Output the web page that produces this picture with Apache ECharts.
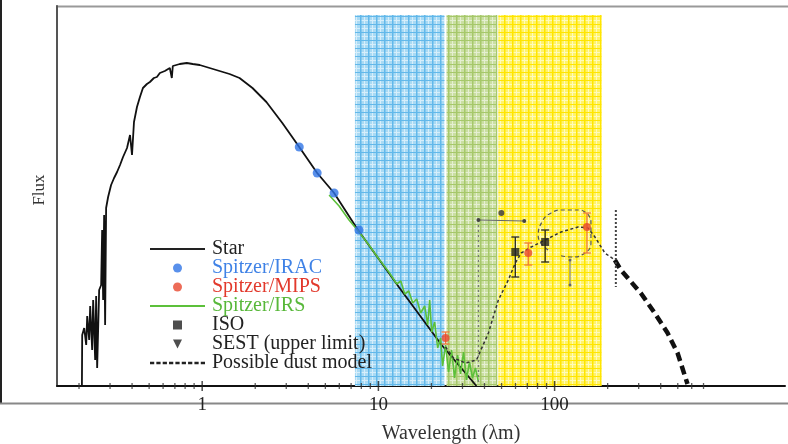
<!DOCTYPE html>
<html><head><meta charset="utf-8">
<script src="https://cdn.jsdelivr.net/npm/echarts@6/dist/echarts.min.js"></script>
<style>html,body{margin:0;padding:0;background:#fff}#c{width:788px;height:444px}</style>
</head><body><div id="c"></div>
<script>
// ---- data ----
const starX = [0.2077,0.2085,0.2140,0.2197,0.2226,0.2284,0.2314,0.2375,0.2406,0.2470,0.2502,0.2535,0.2602,0.2671,0.2706,0.2741,0.2777,0.2813,0.2850,0.2925,0.3041,0.3162,0.3288,0.3418,0.3555,0.3745,0.3895,0.3997,0.4102,0.4265,0.4434,0.4611,0.4857,0.5050,0.5321,0.5533,0.5753,0.6138,0.6552,0.6725,0.6813,0.7462,0.8177,0.8837,0.9681,1.1025,1.2555,1.4300,1.6290,1.9290,2.3140,2.8500,3.5540,4.4930,5.6060,7.6590,13.060,22.850,36.020];
const starY = [0,51,58,41,70,46,80,36,86,26,90,18,96,101,156,86,171,61,178,189,201,208,214,221,229,238,251,231,264,279,289,298,302,304,308,309,313,315,318,308,320,322,323,322,321,318,315,312,308,298,284,263,239,213,193,156,99,41,0];

const iracX = [3.555,4.493,5.606,7.758];
const iracY = [239,213,193,156];

const irsX = [5.252,5.982,6.813,7.758,8.837,10.07,11.46,12.72,13.40,14.11,14.87,15.66,16.50,17.38,18.31,19.04,19.54,20.06,20.86,21.69,22.55,23.14,24.06,25.02,26.02,27.05,28.13,29.25,30.42,31.62,32.88,34.19,35.54,36.97];
const irsY = [191,180,166,154,141,127,114,102,105,92,95,83,87,73,80,61,86,54,64,38,48,20,41,14,36,8,31,12,34,6,24,8,18,4];

const mipsX = [24.06,70.86,152.6];
const mipsY = [48,133,159];
const mipsLow = [42,121,133];
const mipsHigh = [54,143,173];

const isoX = [59.83,88.38];
const isoY = [134,144];
const isoLow = [109,124];
const isoHigh = [149,156];

const sestX = [];
const sestY = [];

const dustX = [24.06,26.71,31.22,36.02,42.10,47.96,54.62,59.83,64.67,73.68,88.38,108.8,135.8,154.6,169.4,192.9,219.7];
const dustY = [39,28,23,26,53,86,106,123,133,139,146,154,159,158,149,133,126];

const tailX = [219.7,237.6,308.2,369.7,437.8,498.6,567.8];
const tailY = [126,116,93,73,53,33,2];

const loopX = [91.90,80.69,86.0,95.55,108.8,123.9,138.0,148.7,157.0,160.8,160.8,148.7,123.9,104.7];
const loopY = [136,150,166,173,176,176,176,174,170,163,143,133,129,131];

const arrowX = [36.97,67.25];
const arrowY = [166,165];
const arrowPtX = [49.86];
const arrowPtY = [173];
const vline1X = [36.97,36.97];
const vline1Y = [166,3];
const vline2X = [122.3,122.3];
const vline2Y = [126,101];
const vline3X = [222.6,222.6];
const vline3Y = [176,99];

const bandStart = [7.36,24.35,47.9];
const bandEnd = [23.75,47.3,185];
const bandTop = 371;

const minorTickValues = [0.2,0.3,0.4,0.5,0.6,0.7,0.8,0.9,2,3,4,5,6,7,8,9,20,30,40,50,60,70,80,90,200,300,400,500,600,700];
const majorTickValues = [1,10,100];
const tickLabels = ['1','10','100'];

const legendNames = ['Star','Spitzer/IRAC','Spitzer/MIPS','Spitzer/IRS','ISO','SEST (upper limit)','Possible dust model'];

// ---- helpers ----
const zip = (xs, ys) => xs.map((x, i) => [x, ys[i]]);
function pattern(base, dark, light) {
  const c = document.createElement('canvas');
  c.width = 8; c.height = 8;
  const g = c.getContext('2d');
  g.fillStyle = base; g.fillRect(0, 0, 8, 8);
  g.fillStyle = light; g.fillRect(4, 0, 1, 8); g.fillRect(0, 4, 8, 1);
  g.fillStyle = dark; g.fillRect(0, 0, 1.5, 8); g.fillRect(0, 0, 8, 1);
  return { image: c, repeat: 'repeat' };
}
const bandFills = [
  pattern('#a9daf4', '#62b8ea', '#d6eefb'),
  pattern('#cadfa2', '#a6c86a', '#e5efd2'),
  pattern('#fff36a', '#ffe500', '#fffbbb')
];
function errRender(color) {
  return function (params, api) {
    const x = api.value(0);
    const a = api.coord([x, api.value(2)]);
    const b = api.coord([x, api.value(3)]);
    const st = { stroke: color, lineWidth: 1.3 };
    return { type: 'group', children: [
      { type: 'line', shape: { x1: a[0], y1: a[1], x2: b[0], y2: b[1] }, style: st },
      { type: 'line', shape: { x1: a[0] - 4, y1: a[1], x2: a[0] + 4, y2: a[1] }, style: st },
      { type: 'line', shape: { x1: b[0] - 4, y1: b[1], x2: b[0] + 4, y2: b[1] }, style: st }
    ]};
  };
}
const lineIcon = 'path://M0,0H54V2.2H0Z';
let dashPath = 'path://';
for (let i = 0; i < 9; i++) { const s = i * 6; dashPath += 'M' + s + ',0H' + (s + 4) + 'V2.5H' + s + 'Z'; }
const serif = 'Liberation Serif';

const chart = echarts.init(document.getElementById('c'), null, { renderer: 'canvas' });
chart.setOption({
  animation: false,
  backgroundColor: '#fff',
  grid: { left: 57, right: 0, top: 6, bottom: 58, show: false },
  xAxis: [
    { type: 'log', logBase: 10, min: 0.15, max: 2030, gridIndex: 0,
      axisLine: { show: true, lineStyle: { color: '#111', width: 2 } },
      axisTick: { show: false }, axisLabel: { show: false }, splitLine: { show: false } },
    { type: 'log', logBase: 10, min: 0.15, max: 2030, gridIndex: 0, position: 'bottom', offset: 10,
      axisLine: { show: false }, axisTick: { show: false }, splitLine: { show: false },
      axisLabel: { show: true, margin: 0, fontFamily: serif, fontSize: 19, color: '#222',
        showMinLabel: true, showMaxLabel: true,
        formatter: function (v) {
          for (let i = 0; i < majorTickValues.length; i++) {
            if (Math.abs(v - majorTickValues[i]) / majorTickValues[i] < 1e-6) return tickLabels[i];
          }
          return '';
        } } }
  ],
  yAxis: { type: 'value', min: 0, max: 380,
    axisLine: { show: true, lineStyle: { color: '#555', width: 2 } },
    axisTick: { show: false }, axisLabel: { show: false }, splitLine: { show: false } },
  legend: {
    orient: 'vertical', left: 150, top: 239, padding: 0, itemWidth: 55, itemHeight: 9, itemGap: -1,
    textStyle: { fontFamily: serif, fontSize: 20, lineHeight: 19, color: '#222', padding: [0, 0, 0, 2] },
    data: [
      { name: legendNames[0], icon: lineIcon, textStyle: { color: '#222' } },
      { name: legendNames[1], icon: 'circle', textStyle: { color: '#3f82e6' } },
      { name: legendNames[2], icon: 'circle', textStyle: { color: '#e2392c' } },
      { name: legendNames[3], icon: lineIcon, textStyle: { color: '#58b83a' } },
      { name: legendNames[4], icon: 'path://M0,0H10V10H0Z', textStyle: { color: '#222' } },
      { name: legendNames[5], icon: 'path://M0,0L10,0L5,10Z', textStyle: { color: '#222' } },
      { name: legendNames[6], icon: dashPath, textStyle: { color: '#222' } }
    ]
  },
  graphic: [
    { type: 'line', shape: { x1: 1, y1: 0, x2: 1, y2: 404 }, style: { stroke: '#222', lineWidth: 2 } },
    { type: 'line', shape: { x1: 0, y1: 403.5, x2: 788, y2: 403.5 }, style: { stroke: '#888', lineWidth: 2 } },
    { type: 'line', shape: { x1: 56, y1: 6.5, x2: 788, y2: 6.5 }, style: { stroke: '#999', lineWidth: 2 } },
    { type: 'text', x: 40, y: 190, rotation: Math.PI / 2,
      style: { text: 'Flux', fontFamily: serif, fontSize: 17, fill: '#333', align: 'center', verticalAlign: 'middle' } },
    { type: 'text', x: 451, y: 434,
      style: { text: 'Wavelength (λm)', fontFamily: serif, fontSize: 20, fill: '#333', align: 'center', verticalAlign: 'middle' } }
  ],
  series: [
    { name: 'bands', type: 'line', data: [], z: 0, silent: true,
      markArea: { silent: true, data: bandStart.map((s, i) => [
        { xAxis: s, yAxis: 0, itemStyle: { color: bandFills[i] } },
        { xAxis: bandEnd[i], yAxis: bandTop }
      ]) } },
    { name: 'ticks', type: 'scatter', z: 3, silent: true, symbol: 'rect', symbolSize: [1.3, 6],
      itemStyle: { color: '#333' }, data: minorTickValues.map(v => [v, 0]) },
    { name: 'majorTicks', type: 'scatter', z: 3, silent: true, symbol: 'rect', symbolSize: [1.5, 10],
      itemStyle: { color: '#222' }, data: majorTickValues.map(v => [v, 0]) },
    { name: legendNames[0], type: 'line', z: 4, symbol: 'none', data: zip(starX, starY),
      lineStyle: { color: '#111', width: 1.8 }, itemStyle: { color: '#222' } },
    { name: legendNames[3], type: 'line', z: 5, symbol: 'none', data: zip(irsX, irsY),
      lineStyle: { color: '#5cc03a', width: 1.6 }, itemStyle: { color: '#5cc03a' } },
    { name: legendNames[6], type: 'line', z: 5, symbol: 'none', data: zip(dustX, dustY),
      lineStyle: { color: '#333', width: 1.5, type: [3, 2.5] }, itemStyle: { color: '#222' } },
    { name: 'tail', type: 'line', z: 5, symbol: 'none', data: zip(tailX, tailY),
      lineStyle: { color: '#111', width: 4.5, type: [9, 5] } },
    { name: 'loop', type: 'line', z: 5, symbol: 'none', smooth: true, data: zip(loopX, loopY),
      lineStyle: { color: '#555', width: 1.2, type: [4, 3] } },
    { name: 'arrow', type: 'line', z: 5, symbol: 'circle', symbolSize: 4, data: zip(arrowX, arrowY),
      lineStyle: { color: '#666', width: 1.2 }, itemStyle: { color: '#444' } },
    { name: 'arrowPt', type: 'scatter', z: 6, symbol: 'circle', symbolSize: 6, data: zip(arrowPtX, arrowPtY),
      itemStyle: { color: '#333' } },
    { name: 'v1', type: 'line', z: 5, symbol: 'none', data: zip(vline1X, vline1Y),
      lineStyle: { color: '#777', width: 1.2, type: [2, 3] } },
    { name: 'v2', type: 'line', z: 5, symbol: 'circle', symbolSize: 3, data: zip(vline2X, vline2Y),
      lineStyle: { color: '#888', width: 1.2 }, itemStyle: { color: '#666' } },
    { name: 'v3', type: 'line', z: 5, symbol: 'none', data: zip(vline3X, vline3Y),
      lineStyle: { color: '#444', width: 2, type: [2, 2] } },
    { name: 'mipsErr', type: 'custom', z: 6, renderItem: errRender('#f07a3a'),
      data: mipsX.map((x, i) => [x, mipsY[i], mipsLow[i], mipsHigh[i]]), encode: { x: 0, y: 1 } },
    { name: 'isoErr', type: 'custom', z: 6, renderItem: errRender('#222'),
      data: isoX.map((x, i) => [x, isoY[i], isoLow[i], isoHigh[i]]), encode: { x: 0, y: 1 } },
    { name: legendNames[1], type: 'scatter', z: 7, symbol: 'circle', symbolSize: 9, data: zip(iracX, iracY),
      itemStyle: { color: '#2f74e6' } },
    { name: legendNames[2], type: 'scatter', z: 7, symbol: 'circle', symbolSize: 8, data: zip(mipsX, mipsY),
      itemStyle: { color: '#e8472e' } },
    { name: legendNames[4], type: 'scatter', z: 7, symbol: 'rect', symbolSize: 8, data: zip(isoX, isoY),
      itemStyle: { color: '#222' } },
    { name: legendNames[5], type: 'scatter', z: 7, symbol: 'triangle', symbolRotate: 180, symbolSize: 9,
      data: zip(sestX, sestY), itemStyle: { color: '#222' } }
  ]
});
</script></body></html>
